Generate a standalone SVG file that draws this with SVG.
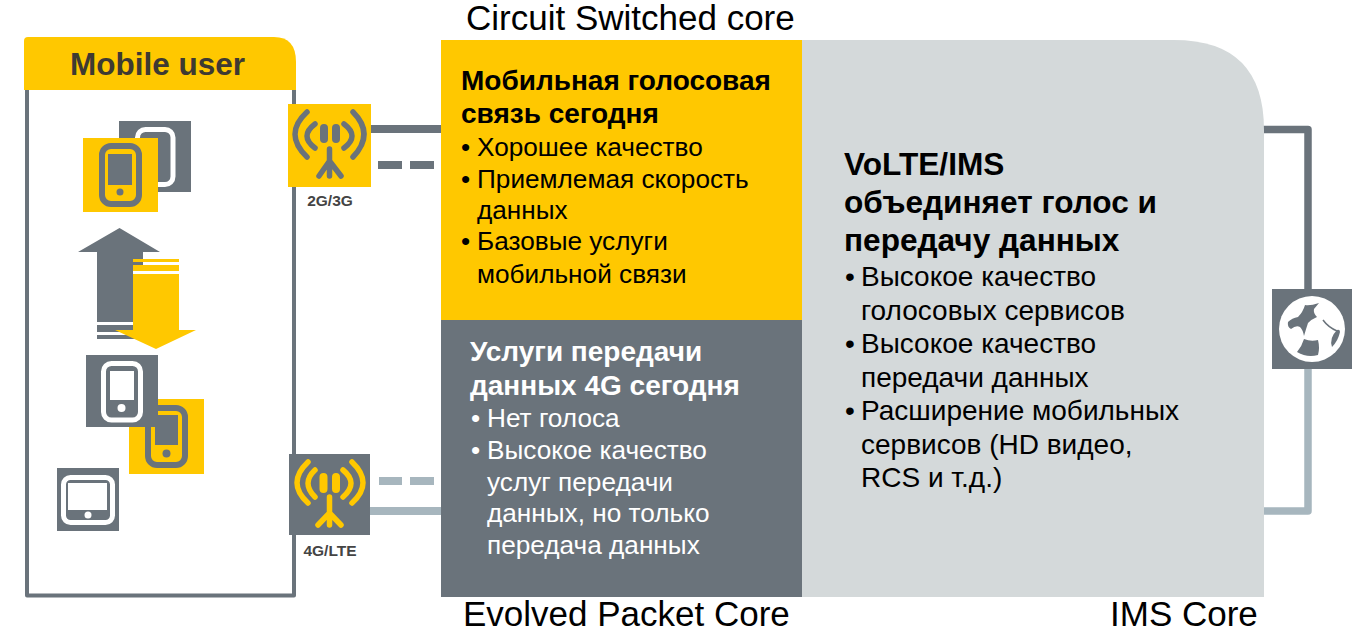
<svg xmlns="http://www.w3.org/2000/svg" width="1356" height="633" viewBox="0 0 1356 633">
<style>
text{font-family:"Liberation Sans",Arial,sans-serif}
.y{fill:#ffc800}.g{fill:#6a737b}.w{fill:#fff}.l{fill:#a7b6be}
.cap{font-size:35px;fill:#000}
.hb{font-size:28px;font-weight:bold;fill:#000}
.hw{font-size:28px;font-weight:bold;fill:#fff}
.hr{font-size:31.600px;font-weight:bold;fill:#000}
.tb{font-size:26.200px;fill:#000}
.tr{font-size:28px;fill:#000}
.tw{font-size:26.200px;fill:#fff}
.ant{font-size:15.500px;font-weight:bold;fill:#444;text-anchor:middle}
.a{fill:none;stroke-linecap:round;stroke-width:5.500}
.b{fill:none;stroke-linecap:round;stroke-width:8}
.m{fill:none;stroke-linecap:round;stroke-width:5.500}
</style>
<rect width="1356" height="633" fill="#fff"/>

<g id="connectors">
<rect x="370" y="125" width="72" height="8" class="g"/>
<rect x="378" y="161" width="24" height="8" class="g"/><rect x="410" y="161" width="24" height="8" class="g"/>
<rect x="379" y="477" width="23" height="8" class="l"/><rect x="410" y="477" width="24" height="8" class="l"/>
<rect x="366" y="507" width="76" height="8" class="l"/>
<path d="M1262 129.500H1308V292" fill="none" stroke="#6a737b" stroke-width="7.500" stroke-linejoin="round"/>
<path d="M1262 511H1308V366" fill="none" stroke="#a7b6be" stroke-width="7.500" stroke-linejoin="round"/>
</g>

<g id="mobile-user">
<rect x="27" y="70" width="267" height="525.500" fill="#fff" stroke="#6a737b" stroke-width="4" stroke-linejoin="round"/>
<path d="M24 41Q24 37 28 37H274Q296 37 296 62V90H24Z" class="y"/>
<text x="157.500" y="75" text-anchor="middle" font-size="31.500" font-weight="bold" fill="#3e3a32">Mobile user</text>
</g>

<g id="device-tablet-top">
<rect x="119" y="121" width="72" height="71" class="g"/>
<rect x="137.500" y="129.500" width="35.500" height="55" rx="8" fill="none" stroke="#fff" stroke-width="5"/>
</g>
<g id="device-phone-yellow-top">
<rect x="83" y="138" width="75" height="74" class="y"/>
<rect x="102" y="146" width="37" height="58" rx="9" fill="none" stroke="#6a737b" stroke-width="6"/>
<rect x="108" y="154" width="24" height="31" class="g"/>
<circle cx="120" cy="192" r="3.500" class="g"/>
</g>

<g id="arrow-up">
<path d="M119.500 228L160 252H143V322H97V252H78Z" class="g"/>
<rect x="97" y="325" width="46" height="7" class="g"/><rect x="97" y="335" width="46" height="4" class="g"/>
</g>
<g id="arrow-down">
<rect x="133" y="259" width="46" height="3" class="y"/>
<rect x="133" y="265" width="46" height="6" class="y"/>
<rect x="133" y="271" width="46" height="3" fill="#fff"/>
<rect x="143" y="262" width="36" height="3" fill="#fff"/>
<path d="M133 274H179V330H196L156 349L115 330H133Z" class="y"/>
</g>

<g id="device-phone-yellow-bottom">
<rect x="129" y="399" width="75" height="75" class="y"/>
<rect x="148" y="408" width="37" height="57" rx="9" fill="none" stroke="#6a737b" stroke-width="6"/>
<rect x="155" y="415" width="23" height="30" class="g"/>
<circle cx="166.500" cy="453.500" r="4" class="g"/>
</g>
<g id="device-phone-gray">
<rect x="86" y="355" width="72" height="72" class="g"/>
<rect x="103.500" y="363.500" width="37" height="56.500" rx="8" fill="none" stroke="#fff" stroke-width="5"/>
<rect x="110" y="371" width="24" height="29" class="w"/>
<circle cx="121.500" cy="408" r="4" class="w"/>
</g>
<g id="device-tablet-bottom">
<rect x="57" y="468" width="62" height="63" class="g"/>
<rect x="63.500" y="477.500" width="49" height="45" rx="7" fill="none" stroke="#fff" stroke-width="5"/>
<rect x="68" y="483" width="39" height="27" class="w"/>
<circle cx="88" cy="515" r="3.500" class="w"/>
</g>

<g id="antenna-2g3g">
<rect x="288" y="104" width="83" height="83" class="y"/>
<g stroke="#6a737b">
<path class="a" d="M307 112Q283 134 307 157"/><path class="a" d="M353 112Q375 134 353 157"/>
<path class="a" d="M315 124Q299 136 315 148"/><path class="a" d="M344 124Q360 136 344 148"/>
<path class="b" d="M324 128V139M336 128V139"/>
<path class="m" d="M329.500 149V176M329.500 161L319 176M329.500 161L341 176"/>
</g>
<text x="330" y="206" class="ant">2G/3G</text>
</g>

<g id="antenna-4g">
<rect x="289" y="454" width="81" height="81" class="g"/>
<g stroke="#ffc800">
<path class="a" d="M308 462Q286 483 308 503"/><path class="a" d="M352 462Q374 483 352 503"/>
<path class="a" d="M315 470Q301 483 315 497"/><path class="a" d="M343 470Q359 483 343 497"/>
<path class="b" d="M323.500 477V489M336 477V489"/>
<path class="m" d="M329.500 497V525M329.500 513L318 525M329.500 513L341 525"/>
</g>
<text x="330" y="556" class="ant">4G/LTE</text>
</g>

<g id="ims-core">
<path d="M441 40H1174Q1264 40 1264 130V597H441Z" fill="#d4d9da"/>
<text x="844" y="175" class="hr">VoLTE/IMS</text>
<text x="844" y="213" class="hr">объединяет голос и</text>
<text x="844" y="251" class="hr">передачу данных</text>
<text x="845" y="286" class="tr">•</text><text x="861" y="286" class="tr">Высокое качество</text>
<text x="861" y="320" class="tr">голосовых сервисов</text>
<text x="845" y="353" class="tr">•</text><text x="861" y="353" class="tr">Высокое качество</text>
<text x="861" y="387" class="tr">передачи данных</text>
<text x="845" y="420" class="tr">•</text><text x="861" y="420" class="tr">Расширение мобильных</text>
<text x="861" y="454" class="tr">сервисов (HD видео,</text>
<text x="861" y="487" class="tr">RCS и т.д.)</text>
<text x="1110" y="625.500" class="cap">IMS Core</text>
</g>

<g id="circuit-switched-core">
<rect x="441" y="40" width="361" height="280" class="y"/>
<text x="461" y="90" class="hb">Мобильная голосовая</text>
<text x="461" y="123" class="hb">связь сегодня</text>
<text x="461" y="156" class="tb">•</text><text x="477" y="156" class="tb">Хорошее качество</text>
<text x="461" y="188" class="tb">•</text><text x="477" y="188" class="tb">Приемлемая скорость</text>
<text x="477" y="219" class="tb">данных</text>
<text x="461" y="250" class="tb">•</text><text x="477" y="250" class="tb">Базовые услуги</text>
<text x="477" y="283" class="tb">мобильной связи</text>
<text x="466" y="30" class="cap">Circuit Switched core</text>
</g>

<g id="evolved-packet-core">
<rect x="441" y="320" width="361" height="277" class="g"/>
<text x="470" y="361" class="hw">Услуги передачи</text>
<text x="470" y="395" class="hw">данных 4G сегодня</text>
<text x="471" y="427" class="tw">•</text><text x="487" y="427" class="tw">Нет голоса</text>
<text x="471" y="459" class="tw">•</text><text x="487" y="459" class="tw">Высокое качество</text>
<text x="487" y="491" class="tw">услуг передачи</text>
<text x="487" y="522" class="tw">данных, но только</text>
<text x="487" y="554" class="tw">передача данных</text>
<text x="463" y="625.500" class="cap">Evolved Packet Core</text>
</g>

<g id="internet">
<rect x="1272" y="289" width="80" height="80" class="g"/>
<circle cx="1312" cy="329" r="33" class="w"/>
<path class="g" d="M1319 303Q1310 306 1305 305Q1303 312 1298 317Q1292 318 1288 322Q1287 327 1291 329Q1296 325 1300 327Q1303 330 1304 336Q1306 329 1308 323Q1312 319 1317 317Q1313 313 1314 309Z"/>
<path class="g" d="M1304 339Q1311 342 1318 340Q1320 348 1318 355Q1307 358 1297 352Q1302 346 1304 339Z"/>
<path class="g" d="M1337 330Q1340 329 1340 332Q1338 341 1332 347Q1329 338 1337 330Z"/>
<path fill="none" stroke="#6a737b" stroke-width="1.500" d="M1323 320Q1328 327 1337 331"/>
</g>
</svg>
